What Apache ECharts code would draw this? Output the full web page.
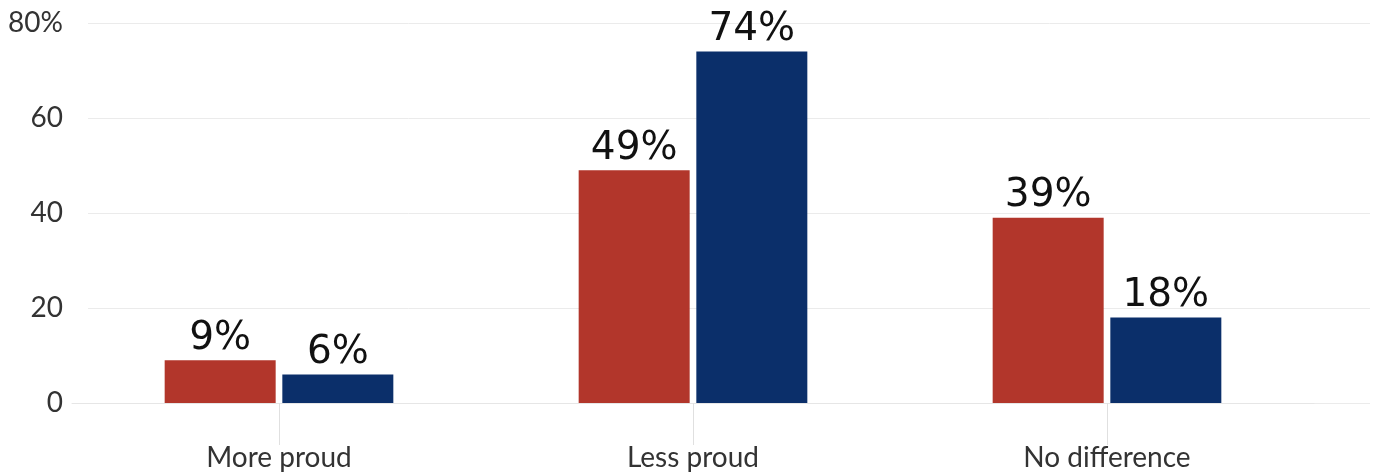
<!DOCTYPE html>
<html><head><meta charset="utf-8">
<script src="https://cdn.jsdelivr.net/npm/echarts@6/dist/echarts.min.js"></script>
<style>html,body{margin:0;padding:0;background:#fff}#c{width:1376px;height:474px}</style>
</head><body><div id="c"></div>
<script>
const categories = ['More proud', 'Less proud', 'No difference'];
const seriesA = [9, 49, 39];
const seriesB = [6, 74, 18];
const yTicks = [0, 20, 40, 60, 80];

const chart = echarts.init(document.getElementById('c'), null, {renderer: 'canvas'});
const lbl = {
  show: true, position: 'top', distance: 2,
  formatter: p => p.value + '%',
  fontFamily: 'DejaVu Sans', fontWeight: 'normal', fontSize: 39, color: '#111'
};
chart.setOption({
  animation: false,
  grid: [
    {left: 72, right: 62, top: 23, bottom: 71},
    {left: 88, right: 6, top: 23, bottom: 71}
  ],
  xAxis: [
    {type: 'category', gridIndex: 0, data: categories,
     axisLine: {show: true, lineStyle: {color: '#e6e6e6', width: 1}},
     axisTick: {show: true, alignWithLabel: true, length: 42, lineStyle: {color: '#e0e0e0'}},
     axisLabel: {margin: 41, fontFamily: 'Lato', fontSize: 28, color: '#333'}},
    {type: 'category', gridIndex: 1, data: categories, show: false}
  ],
  yAxis: [
    {type: 'value', gridIndex: 0, min: 0, max: 80, interval: 20, show: false, splitLine: {show: false}},
    {type: 'value', gridIndex: 1, min: yTicks[0], max: yTicks[yTicks.length - 1], interval: 20,
     axisLine: {show: false}, axisTick: {show: false},
     splitLine: {lineStyle: {color: '#ebebeb', width: 1}},
     axisLabel: {margin: 25, fontFamily: 'Lato', fontSize: 28, color: '#333',
       formatter: v => v === 80 ? v + '%' : String(v)}}
  ],
  series: [
    {type: 'bar', xAxisIndex: 0, yAxisIndex: 0, data: seriesA, barWidth: 111, barGap: '6%',
     itemStyle: {color: '#b2362b'}, label: lbl},
    {type: 'bar', xAxisIndex: 0, yAxisIndex: 0, data: seriesB, barWidth: 111, barGap: '6%',
     itemStyle: {color: '#0b2f6a'}, label: lbl}
  ]
});
</script></body></html>
